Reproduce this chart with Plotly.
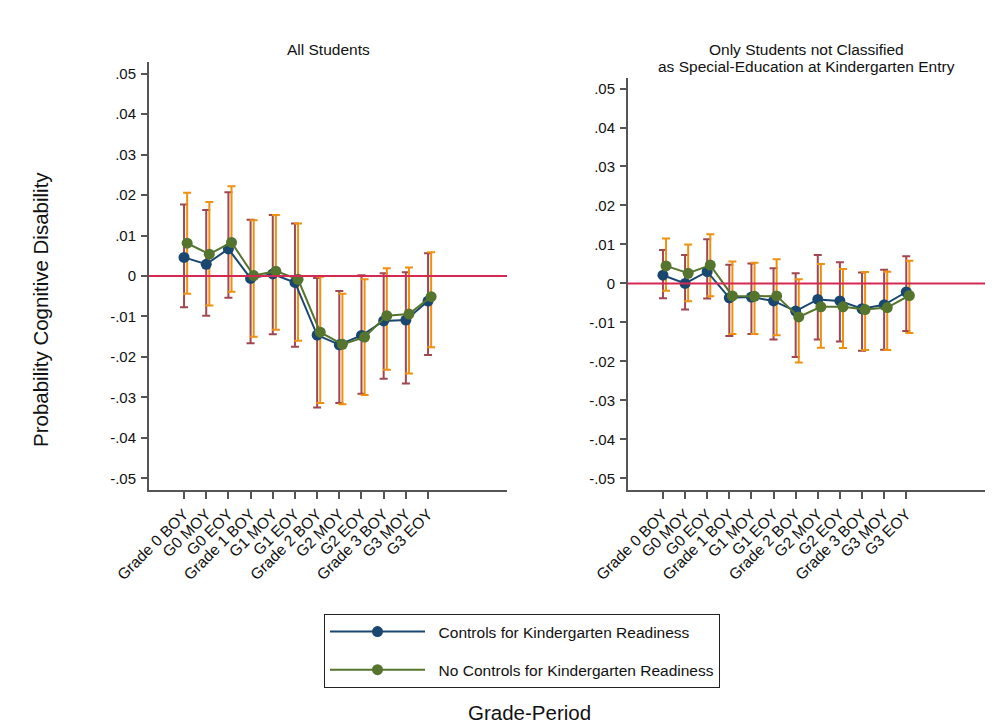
import numpy as np
import plotly.graph_objects as go
from plotly.subplots import make_subplots

periods = ["Grade 0 BOY", "G0 MOY", "G0 EOY", "Grade 1 BOY", "G1 MOY", "G1 EOY",
           "Grade 2 BOY", "G2 MOY", "G2 EOY", "Grade 3 BOY", "G3 MOY", "G3 EOY"]

# Panel 1: all students
all_ctrl = [0.0046, 0.0029, 0.0067, -0.0006, 0.0005, -0.0016,
            -0.0146, -0.0170, -0.0147, -0.0111, -0.0109, -0.0062]
all_ctrl_lo = [-0.0077, -0.0098, -0.0054, -0.0166, -0.0144, -0.0175,
               -0.0325, -0.0314, -0.0291, -0.0254, -0.0266, -0.0195]
all_ctrl_hi = [0.0177, 0.0163, 0.0207, 0.0139, 0.0151, 0.0130,
               -0.0005, -0.0037, 0.0002, 0.0007, 0.0009, 0.0056]
all_noctrl = [0.0081, 0.0054, 0.0083, 0.0001, 0.0012, -0.0008,
              -0.0139, -0.0169, -0.0151, -0.0098, -0.0094, -0.0051]
all_noctrl_lo = [-0.0044, -0.0073, -0.0039, -0.0150, -0.0133, -0.0160,
                 -0.0314, -0.0317, -0.0294, -0.0232, -0.0241, -0.0176]
all_noctrl_hi = [0.0206, 0.0183, 0.0222, 0.0138, 0.0151, 0.0130,
                 -0.0002, -0.0044, -0.0008, 0.0019, 0.0021, 0.0059]

# Panel 2: students not in special education at kindergarten entry
nse_ctrl = [0.0021, 0.0000, 0.0030, -0.0037, -0.0035, -0.0045,
            -0.0071, -0.0041, -0.0045, -0.0065, -0.0055, -0.0022]
nse_ctrl_lo = [-0.0038, -0.0067, -0.0039, -0.0135, -0.0130, -0.0144,
               -0.0189, -0.0144, -0.0149, -0.0173, -0.0170, -0.0122]
nse_ctrl_hi = [0.0086, 0.0073, 0.0113, 0.0048, 0.0051, 0.0039,
               0.0026, 0.0073, 0.0054, 0.0028, 0.0035, 0.0070]
nse_noctrl = [0.0045, 0.0026, 0.0047, -0.0032, -0.0033, -0.0032,
              -0.0086, -0.0060, -0.0060, -0.0067, -0.0062, -0.0031]
nse_noctrl_lo = [-0.0019, -0.0046, -0.0033, -0.0130, -0.0130, -0.0133,
                 -0.0203, -0.0165, -0.0166, -0.0171, -0.0171, -0.0127]
nse_noctrl_hi = [0.0115, 0.0100, 0.0126, 0.0056, 0.0053, 0.0062,
                 0.0011, 0.0050, 0.0037, 0.0029, 0.0030, 0.0058]

ytick_vals = [0.05, 0.04, 0.03, 0.02, 0.01, 0, -0.01, -0.02, -0.03, -0.04, -0.05]
ytick_text = [".05", ".04", ".03", ".02", ".01", "0", "-.01", "-.02", "-.03", "-.04", "-.05"]

BLUE = "#1a476f"
GREEN = "#55752f"
MAROON = "#a0474f"
ORANGE = "#f0900f"
ZERO = "#d42a52"
AXIS = "#555555"
TEXT = "#111111"
FONT = "Liberation Sans, Arial, sans-serif"

x = np.arange(1, len(periods) + 1)
shift = 0.14

fig = make_subplots(rows=1, cols=2)

panels = [
    (1, all_ctrl, all_ctrl_lo, all_ctrl_hi, all_noctrl, all_noctrl_lo, all_noctrl_hi),
    (2, nse_ctrl, nse_ctrl_lo, nse_ctrl_hi, nse_noctrl, nse_noctrl_lo, nse_noctrl_hi),
]

for col, c, clo, chi, n, nlo, nhi in panels:
    c, clo, chi = np.array(c), np.array(clo), np.array(chi)
    n, nlo, nhi = np.array(n), np.array(nlo), np.array(nhi)
    # confidence intervals (capped spikes)
    for xs, est, lo, hi, color in [(x, c, clo, chi, MAROON), (x + shift, n, nlo, nhi, ORANGE)]:
        fig.add_trace(go.Scatter(
            x=xs, y=est, mode="markers",
            marker=dict(size=1, opacity=0),
            error_y=dict(type="data", symmetric=False, array=hi - est, arrayminus=est - lo,
                         color=color, thickness=2, width=4),
            showlegend=False, hoverinfo="skip"), row=1, col=col)
    fig.add_hline(y=0, line=dict(color=ZERO, width=2), row=1, col=col)
    fig.add_trace(go.Scatter(
        x=x, y=c, mode="lines+markers", name="\u00a0\u00a0Controls for Kindergarten Readiness",
        line=dict(color=BLUE, width=2), marker=dict(color=BLUE, size=11),
        legendgroup="a", showlegend=(col == 1)), row=1, col=col)
    fig.add_trace(go.Scatter(
        x=x + shift, y=n, mode="lines+markers",
        name="\u00a0\u00a0No Controls for Kindergarten Readiness",
        line=dict(color=GREEN, width=2), marker=dict(color=GREEN, size=11),
        legendgroup="b", showlegend=(col == 1)), row=1, col=col)

W, H = 1007, 724
xaxis_common = dict(range=[-0.58, 15.56], tickmode="array", tickvals=list(x), ticktext=periods,
                    tickangle=-45, showline=True, linecolor=AXIS, linewidth=2, ticks="outside",
                    ticklen=7, tickcolor=AXIS, tickwidth=1.5, showgrid=False, zeroline=False,
                    automargin=False,
                    tickfont=dict(size=15.5, color=TEXT, family=FONT))
yaxis_common = dict(tickmode="array", tickvals=ytick_vals, ticktext=ytick_text,
                    showline=True, linecolor=AXIS, linewidth=2, ticks="outside",
                    ticklen=6, tickcolor=AXIS, tickwidth=1.5, showgrid=False, zeroline=False,
                    automargin=False, ticklabelstandoff=2,
                    tickfont=dict(size=15, color=TEXT, family=FONT))

fig.update_layout(
    width=W, height=H,
    margin=dict(l=0, r=0, t=0, b=0, autoexpand=False),
    paper_bgcolor="white", plot_bgcolor="white",
    font=dict(family=FONT, color=TEXT),
    xaxis=dict(domain=[149 / W, 507 / W], **xaxis_common),
    xaxis2=dict(domain=[628 / W, 985 / W], **xaxis_common),
    yaxis=dict(domain=[1 - 490 / H, 1 - 62 / H], range=[-0.0529, 0.0529], **yaxis_common),
    yaxis2=dict(domain=[1 - 490 / H, 1 - 78 / H], range=[-0.0530, 0.0527], **yaxis_common),
    showlegend=True,
    legend=dict(x=522 / W, y=1 - 614 / H, xanchor="center", yanchor="top",
                bordercolor="#222222", borderwidth=1, bgcolor="white",
                font=dict(size=15.5, family=FONT, color=TEXT),
                itemwidth=95, tracegroupgap=15),
    annotations=[
        dict(text="All Students", x=328 / W, y=1 - 50 / H, xref="paper", yref="paper",
             showarrow=False, font=dict(size=15.5, family=FONT), xanchor="center", yanchor="middle"),
        dict(text="Only Students not Classified",
             x=806 / W, y=1 - 50 / H, xref="paper", yref="paper", showarrow=False,
             font=dict(size=15.5, family=FONT), xanchor="center", yanchor="middle"),
        dict(text="as Special-Education at Kindergarten Entry",
             x=806 / W, y=1 - 66 / H, xref="paper", yref="paper", showarrow=False,
             font=dict(size=15.5, family=FONT), xanchor="center", yanchor="middle"),
        dict(text="Probability Cognitive Disability", x=40 / W, y=1 - 310 / H, xref="paper",
             yref="paper", showarrow=False, textangle=-90, font=dict(size=20.5, family=FONT),
             xanchor="center", yanchor="middle"),
        dict(text="Grade-Period", x=529 / W, y=1 - 712 / H, xref="paper", yref="paper",
             showarrow=False, font=dict(size=20.5, family=FONT), xanchor="center", yanchor="middle"),
    ],
)

fig.write_html("out.html")
